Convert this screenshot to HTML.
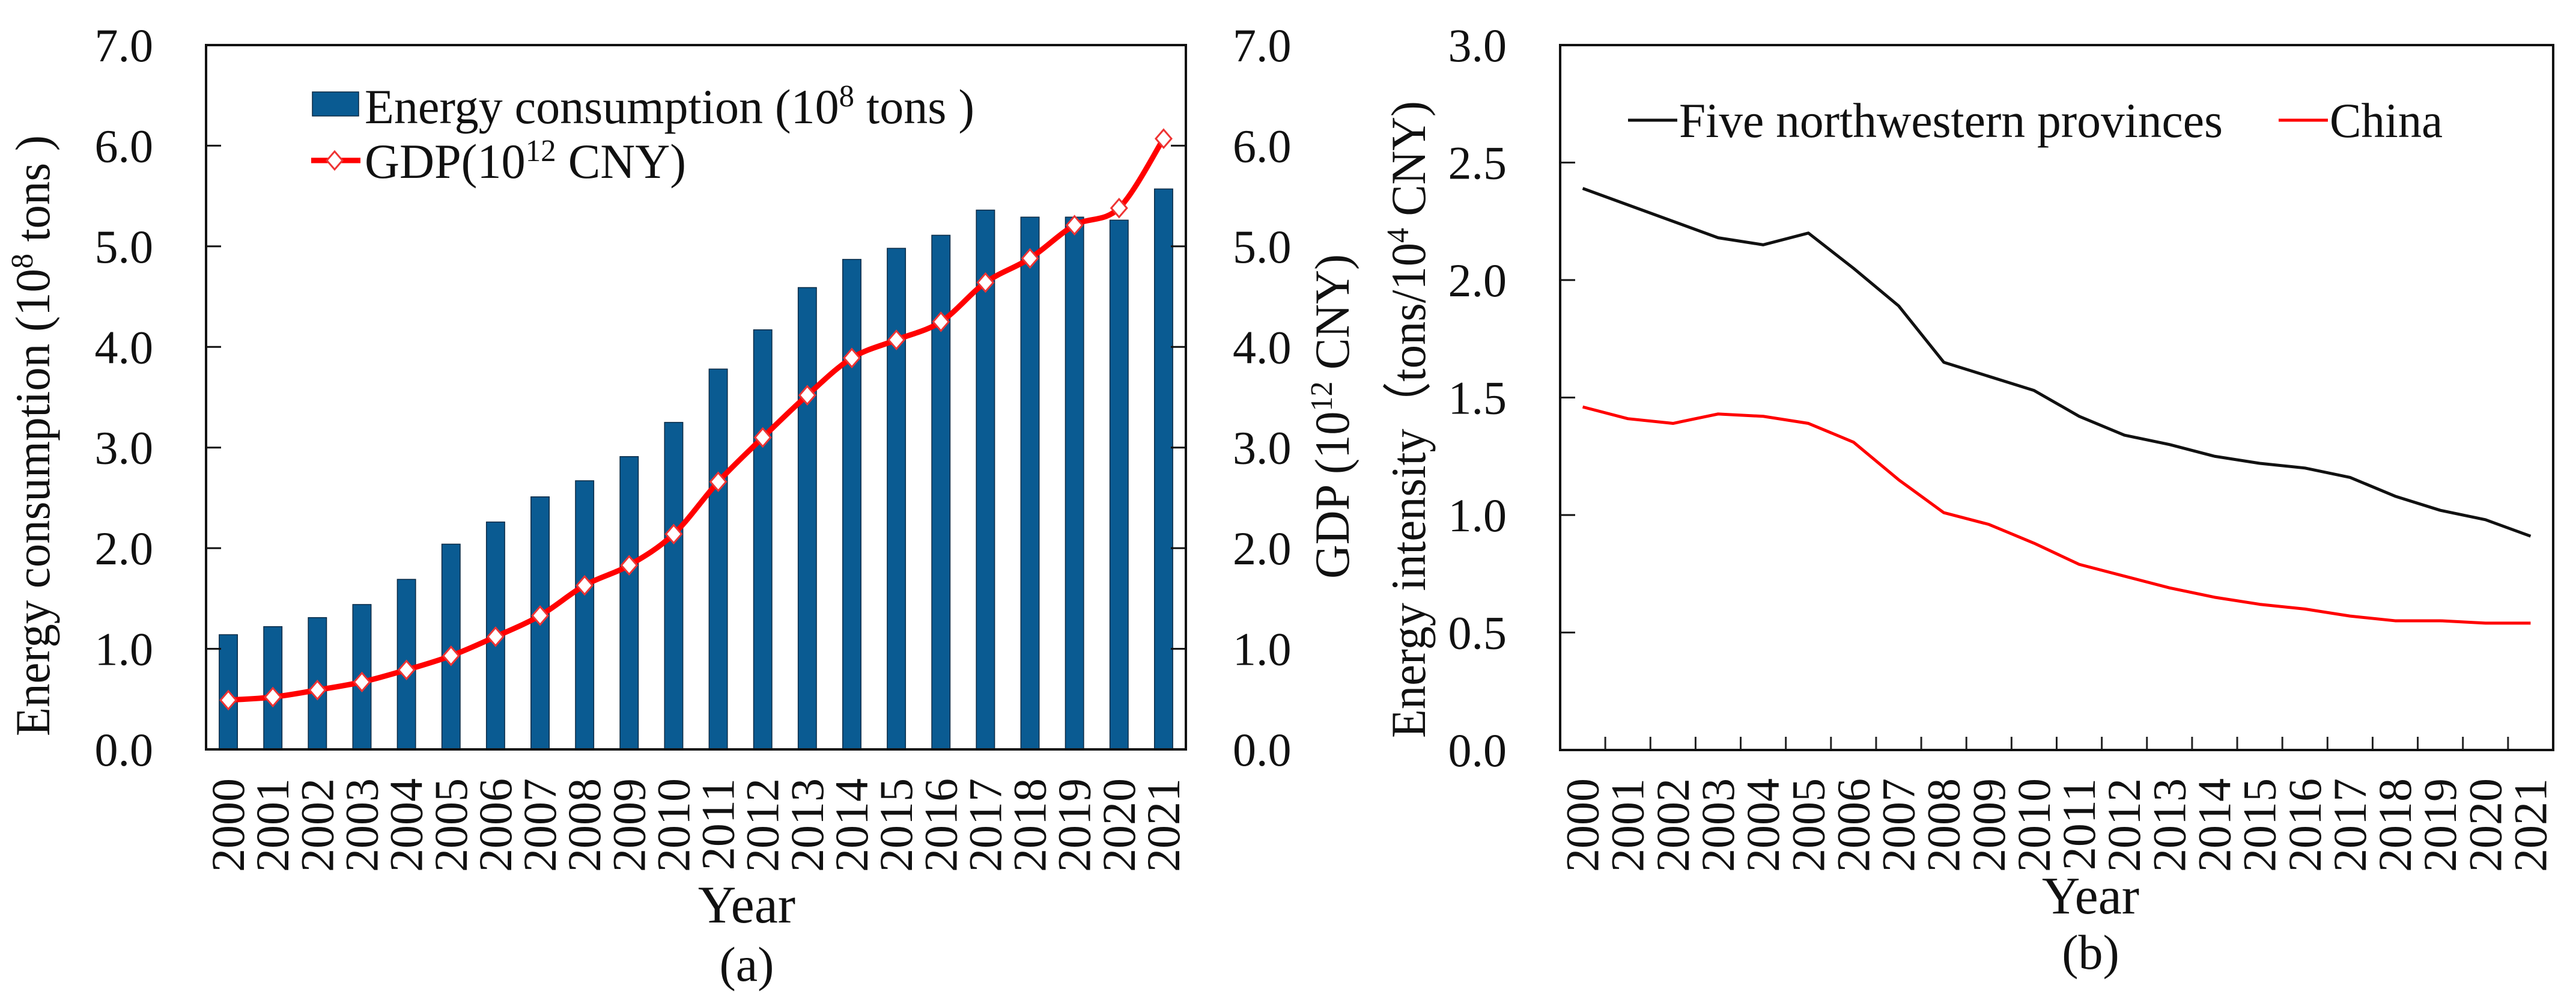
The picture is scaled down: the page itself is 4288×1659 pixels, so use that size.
<!DOCTYPE html>
<html><head><meta charset="utf-8"><style>
html,body{margin:0;padding:0;background:#fff}
svg{display:block}
text{font-family:"Liberation Serif",serif;fill:#111}
</style></head><body>
<svg id="fig" width="4288" height="1659" viewBox="0 0 4288 1659" xmlns="http://www.w3.org/2000/svg">
<g id="ga"></g>
<g id="gb"></g>
</svg>
<script>
const years = ["2000","2001","2002","2003","2004","2005","2006","2007","2008","2009","2010","2011","2012","2013","2014","2015","2016","2017","2018","2019","2020","2021"];
const energyConsumption = [1.14,1.22,1.31,1.44,1.69,2.04,2.26,2.51,2.67,2.91,3.25,3.78,4.17,4.59,4.87,4.98,5.11,5.36,5.29,5.29,5.26,5.57];
const gdp = [0.49,0.52,0.59,0.67,0.79,0.93,1.12,1.33,1.63,1.83,2.14,2.66,3.10,3.52,3.89,4.07,4.25,4.64,4.88,5.21,5.38,6.07];
const intensityNW = [2.39,2.32,2.25,2.18,2.15,2.20,2.05,1.89,1.65,1.59,1.53,1.42,1.34,1.30,1.25,1.22,1.20,1.16,1.08,1.02,0.98,0.91];
const intensityChina = [1.46,1.41,1.39,1.43,1.42,1.39,1.31,1.15,1.01,0.96,0.88,0.79,0.74,0.69,0.65,0.62,0.60,0.57,0.55,0.55,0.54,0.54];
const ticksA = ["0.0","1.0","2.0","3.0","4.0","5.0","6.0","7.0"];
const ticksB = ["0.0","0.5","1.0","1.5","2.0","2.5","3.0"];

const NS="http://www.w3.org/2000/svg";
function mk(parent,tag,attrs,txt){const e=document.createElementNS(NS,tag);for(const k in attrs)e.setAttribute(k,attrs[k]);if(txt!==undefined)e.textContent=txt;parent.appendChild(e);return e;}
function smooth(pts){let d="M"+pts[0][0]+","+pts[0][1];for(let i=0;i<pts.length-1;i++){const p0=pts[i-1]||pts[i],p1=pts[i],p2=pts[i+1],p3=pts[i+2]||p2;const t=6;d+=" C"+(p1[0]+(p2[0]-p0[0])/t)+","+(p1[1]+(p2[1]-p0[1])/t)+" "+(p2[0]-(p3[0]-p1[0])/t)+","+(p2[1]-(p3[1]-p1[1])/t)+" "+p2[0]+","+p2[1];}return d;}
function poly(pts){return "M"+pts.map(p=>p[0]+","+p[1]).join(" L");}

// ---------- Panel A ----------
const ga=document.getElementById('ga');
const A={l:343,r:1974,t:75,b:1247,max:7};
const ax=i=>A.l+(A.r-A.l)/years.length*(i+0.5);
const ay=v=>A.b-(A.b-A.t)*v/A.max;
const bw=(A.r-A.l)/years.length*0.41;
energyConsumption.forEach((v,i)=>{
  const r=mk(ga,'rect',{x:ax(i)-bw/2,y:ay(v),width:bw,height:A.b-ay(v),fill:'#0a5b92',stroke:'#0a2a45','stroke-width':1.5});
  
  
});
const gp=years.map((y,i)=>[ax(i),ay(gdp[i])]);
const gl=mk(ga,'path',{d:smooth(gp),fill:'none',stroke:'#ff0000','stroke-width':9});


gp.forEach((p,i)=>{
  const m=mk(ga,'path',{d:`M${p[0]},${p[1]-15} L${p[0]+13},${p[1]} L${p[0]},${p[1]+15} L${p[0]-13},${p[1]} Z`,fill:'#fff',stroke:'#ee3333','stroke-width':3});
  
  
});
const fa=mk(ga,'rect',{x:A.l,y:A.t,width:A.r-A.l,height:A.b-A.t,fill:'none',stroke:'#111','stroke-width':4});


ticksA.forEach((t,i)=>{
  const y=ay(i);
  if(i>0&&i<ticksA.length-1){mk(ga,'line',{x1:A.l,x2:A.l+25,y1:y,y2:y,stroke:'#111','stroke-width':3});mk(ga,'line',{x1:A.r,x2:A.r-25,y1:y,y2:y,stroke:'#111','stroke-width':3});}
  const tl=mk(ga,'text',{x:255,y:y+27,'text-anchor':'end','font-size':78},t);
  
  
  const tr=mk(ga,'text',{x:2052,y:y+27,'text-anchor':'start','font-size':78},t);
  
  
});
years.forEach((yr,i)=>{
  const x=ax(i);
  const t=mk(ga,'text',{x:0,y:0,transform:`translate(${x+26},1295) rotate(-90)`,'text-anchor':'end','font-size':78},yr);
  
  
});
</script>
<script>
(function(){
const ga=document.getElementById('ga');
ga.insertAdjacentHTML('beforeend',`
<text transform="translate(82,725) rotate(-90)" text-anchor="middle" font-size="82" textLength="1000" lengthAdjust="spacingAndGlyphs">Energy consumption (10<tspan font-size="52" dy="-28">8</tspan><tspan dy="28"> tons )</tspan></text>
<text transform="translate(2245,693) rotate(-90)" text-anchor="middle" font-size="82" textLength="540" lengthAdjust="spacingAndGlyphs">GDP (10<tspan font-size="52" dy="-28">12</tspan><tspan dy="28"> CNY)</tspan></text>
<text x="1243" y="1535" text-anchor="middle" font-size="88">Year</text>
<text x="1243" y="1632" text-anchor="middle" font-size="82">(a)</text>
<g>
<rect x="520" y="153" width="77" height="40" fill="#0a5b92" stroke="#0a2a45" stroke-width="1.5"/>
<text x="607" y="205" font-size="82" textLength="1015" lengthAdjust="spacingAndGlyphs">Energy consumption (10<tspan font-size="52" dy="-28">8</tspan><tspan dy="28"> tons )</tspan></text>
<line x1="518" y1="267" x2="600" y2="267" stroke="#ff0000" stroke-width="9"/>
<path d="M557,252 L570,267 L557,282 L544,267 Z" fill="#fff" stroke="#ee3333" stroke-width="3"/>
<text x="607" y="296" font-size="82" textLength="535" lengthAdjust="spacingAndGlyphs">GDP(10<tspan font-size="52" dy="-28">12</tspan><tspan dy="28"> CNY)</tspan></text>
</g>`);
})();
</script>
<script>
(function(){
const gb=document.getElementById('gb');
const B={l:2597,r:4250,t:75,b:1248,max:3};
const bx=i=>B.l+(B.r-B.l)/years.length*(i+0.5);
const by=v=>B.b-(B.b-B.t)*v/B.max;
for(let k=1;k<years.length;k++){const x=B.l+(B.r-B.l)/years.length*k;mk(gb,'line',{x1:x,x2:x,y1:B.b,y2:B.b-22,stroke:'#222','stroke-width':3});}
ticksB.forEach((t,i)=>{
  const y=by(i*0.5);
  if(i>0&&i<ticksB.length-1)mk(gb,'line',{x1:B.l,x2:B.l+25,y1:y,y2:y,stroke:'#111','stroke-width':3});
  const tl=mk(gb,'text',{x:2508,y:y+27,'text-anchor':'end','font-size':78},t);
  
  
});
const l1=mk(gb,'path',{d:poly(years.map((y,i)=>[bx(i),by(intensityNW[i])])),fill:'none',stroke:'#111','stroke-width':5,'stroke-linejoin':'round'});


const l2=mk(gb,'path',{d:poly(years.map((y,i)=>[bx(i),by(intensityChina[i])])),fill:'none',stroke:'#ff0000','stroke-width':5,'stroke-linejoin':'round'});


const fb=mk(gb,'rect',{x:B.l,y:B.t,width:B.r-B.l,height:B.b-B.t,fill:'none',stroke:'#111','stroke-width':4});


years.forEach((yr,i)=>{
  const t=mk(gb,'text',{x:0,y:0,transform:`translate(${bx(i)+26},1295) rotate(-90)`,'text-anchor':'end','font-size':78},yr);
  
  
});
gb.insertAdjacentHTML('beforeend',`
<text transform="translate(2372,698) rotate(-90)" text-anchor="middle" font-size="82" textLength="1060" lengthAdjust="spacingAndGlyphs">Energy intensity（tons/10<tspan font-size="52" dy="-28">4</tspan><tspan dy="28">  CNY)</tspan></text>
<text x="3480" y="1520" text-anchor="middle" font-size="88">Year</text>
<text x="3480" y="1612" text-anchor="middle" font-size="82">(b)</text>
<g>
<line x1="2710" y1="200" x2="2792" y2="200" stroke="#111" stroke-width="5"/>
<text x="2795" y="228" font-size="82" textLength="905" lengthAdjust="spacingAndGlyphs">Five northwestern provinces</text>
<line x1="3793" y1="200" x2="3875" y2="200" stroke="#ff0000" stroke-width="5"/>
<text x="3878" y="228" font-size="82" textLength="188" lengthAdjust="spacingAndGlyphs">China</text>
</g>`);
})();
</script>
</body></html>
